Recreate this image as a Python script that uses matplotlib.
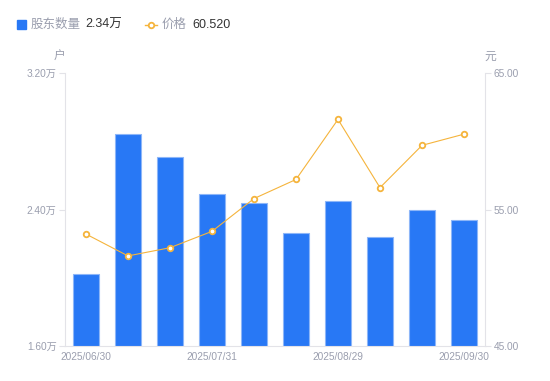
import matplotlib.pyplot as plt
from matplotlib.lines import Line2D

plt.rcParams['font.family'] = ['Liberation Sans', 'Noto Sans CJK SC', 'DejaVu Sans']

# 数据
dates = ["2025/06/30", "", "", "2025/07/31", "", "", "2025/08/29", "", "", "2025/09/30"]
holders = [2.02, 2.84, 2.71, 2.49, 2.44, 2.26, 2.45, 2.24, 2.40, 2.34]  # 万户
price = [53.2, 51.6, 52.2, 53.4, 55.8, 57.2, 61.6, 56.6, 59.7, 60.52]
y1_ticks = [1.60, 2.40, 3.20]
y2_ticks = [45.0, 55.0, 65.0]

bar_color = "#2878f5"
line_color = "#f5b43c"
text_gray = "#9a9eae"
axis_gray = "#e3e3e8"

fig = plt.figure(figsize=(5.5, 3.81), dpi=100)
ax = fig.add_axes([65 / 550, 1 - 346 / 381, 420 / 550, 273 / 381])
x = list(range(len(holders)))
ax.bar(x, holders, width=0.6, color=bar_color, edgecolor="#8db6f8", linewidth=0.8, zorder=2)
ax.set_xlim(-0.5, len(holders) - 0.5)
ax.set_ylim(1.6, 3.2)
ax.set_yticks(y1_ticks)
ax.set_yticklabels([f"{v:.2f}万" for v in y1_ticks])
ax.set_xticks(x)
ax.set_xticklabels(dates)
ax.tick_params(axis="x", length=0, pad=4, labelsize=7.3, labelcolor=text_gray)
ax.tick_params(axis="y", length=4, width=0.8, color=axis_gray, pad=2, labelsize=7.3, labelcolor=text_gray)
for s in ["top", "right"]:
    ax.spines[s].set_visible(False)
for s in ["left", "bottom"]:
    ax.spines[s].set_color(axis_gray)
    ax.spines[s].set_linewidth(0.8)

ax2 = ax.twinx()
ax2.plot(x, price, color=line_color, linewidth=0.8, marker="o", markersize=4,
         markerfacecolor="white", markeredgecolor=line_color, markeredgewidth=1.3, zorder=3)
ax2.set_ylim(45, 65)
ax2.set_yticks(y2_ticks)
ax2.set_yticklabels([f"{v:.2f}" for v in y2_ticks])
ax2.tick_params(axis="y", length=4, width=0.8, color=axis_gray, pad=2, labelsize=7.3, labelcolor=text_gray)
for s in ["top", "left", "bottom"]:
    ax2.spines[s].set_visible(False)
ax2.spines["right"].set_color(axis_gray)
ax2.spines["right"].set_linewidth(0.8)

# 单位
fig.text(59 / 550, 1 - 57 / 381, "户", color=text_gray, fontsize=8.5, ha="center", va="center")
fig.text(490 / 550, 1 - 57 / 381, "元", color=text_gray, fontsize=8.5, ha="center", va="center")

# 图例
fig.patches.append(plt.Rectangle((17 / 550, 1 - 29 / 381), 9 / 550, 9 / 381,
                                 transform=fig.transFigure, color=bar_color, figure=fig))
fig.text(31 / 550, 1 - 24.5 / 381, "股东数量", color=text_gray, fontsize=9, va="center")
fig.text(85 / 550, 1 - 24.5 / 381, "2.34万", color="#333333", fontsize=9, va="center")
fig.lines.append(Line2D([145 / 550, 151 / 550, 157 / 550], [1 - 24.5 / 381] * 3, transform=fig.transFigure,
                        color=line_color, linewidth=1, marker="o", markersize=4, markevery=[1],
                        markerfacecolor="white", markeredgecolor=line_color, markeredgewidth=1.3))
fig.text(162 / 550, 1 - 24.5 / 381, "价格", color=text_gray, fontsize=9, va="center")
fig.text(192 / 550, 1 - 24.5 / 381, "60.520", color="#333333", fontsize=9, va="center")

fig.savefig("out.png", dpi=100)
